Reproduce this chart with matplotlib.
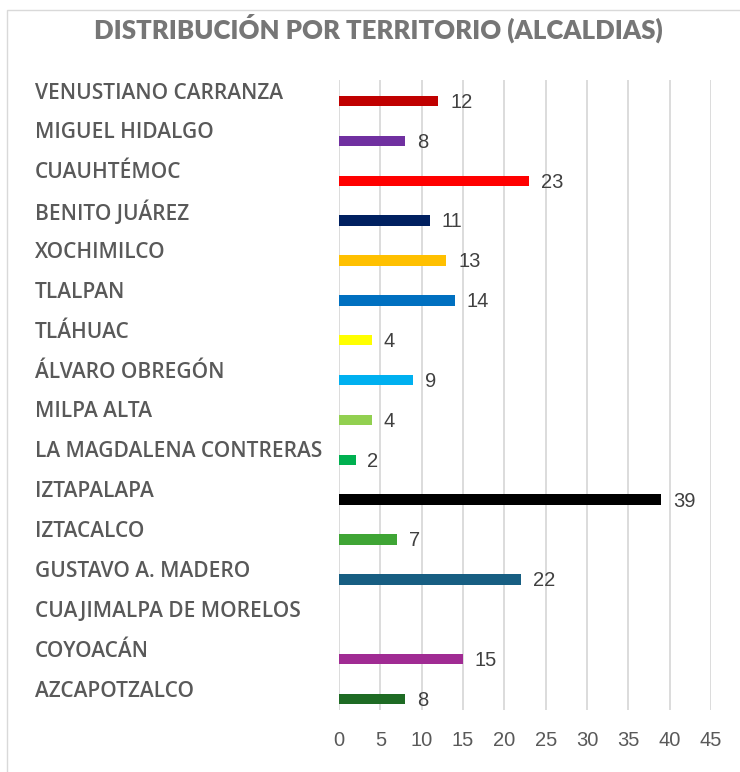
import matplotlib.pyplot as plt
import matplotlib.transforms as mtransforms
from matplotlib.patches import Rectangle

alcaldias = ["VENUSTIANO CARRANZA", "MIGUEL HIDALGO", "CUAUHTÉMOC", "BENITO JUÁREZ",
             "XOCHIMILCO", "TLALPAN", "TLÁHUAC", "ÁLVARO OBREGÓN", "MILPA ALTA",
             "LA MAGDALENA CONTRERAS", "IZTAPALAPA", "IZTACALCO", "GUSTAVO A. MADERO",
             "CUAJIMALPA DE MORELOS", "COYOACÁN", "AZCAPOTZALCO"]
valores = [12, 8, 23, 11, 13, 14, 4, 9, 4, 2, 39, 7, 22, 0, 15, 8]
colores = ["#C00000", "#7030A0", "#FF0000", "#002060", "#FFC000", "#0070C0", "#FFFF00",
           "#00B0F0", "#92D050", "#00B050", "#000000", "#3FA535", "#175E82", "#FFFFFF",
           "#A02B93", "#1E6B24"]
ticks = list(range(0, 50, 5))

fig = plt.figure(figsize=(7.4, 7.72), dpi=100)
# marco del gráfico (solo se ven los bordes izquierdo y superior)
fig.patches.append(Rectangle((7 / 740, -0.1), 2, 1.1 - 10 / 772, transform=fig.transFigure,
                             fill=False, edgecolor="#d9d9d9", linewidth=1))
ax = fig.add_axes([339 / 740, 1 - 710 / 772, 372 / 740, 630 / 772])

pos = list(range(len(alcaldias)))
ax.barh(pos, valores, height=0.26, color=colores, zorder=3)
ax.set_xlim(0, 45)
ax.set_ylim(15.276, -0.527)
ax.set_xticks(ticks)
ax.set_yticks([])
ax.grid(axis="x", color="#d9d9d9", linewidth=1.3, zorder=0)
for s in ax.spines.values():
    s.set_visible(False)
ax.tick_params(axis="x", length=0, pad=15, labelsize=14.5, labelcolor="#595959")
for lab in ax.get_xticklabels():
    lab.set_family("Liberation Sans")

trans = mtransforms.blended_transform_factory(fig.transFigure, ax.transData)
for i, (nombre, v) in enumerate(zip(alcaldias, valores)):
    ax.text(35 / 740, i - 0.2, nombre, transform=trans, ha="left", va="center",
            fontsize=15, fontweight="semibold", color="#595959", family="Open Sans")
    if v > 0:
        ax.annotate(str(v), (v, i), xytext=(8.5, -1), textcoords="offset points",
                    ha="left", va="center", fontsize=14.5, color="#404040",
                    family="Liberation Sans")

fig.text(378 / 740, 1 - 28 / 772, "DISTRIBUCIÓN POR TERRITORIO (ALCALDIAS)", ha="center",
         va="center", fontsize=18.5, fontweight="heavy", color="#767676", family="Lato")

fig.savefig("out.png", dpi=100)
